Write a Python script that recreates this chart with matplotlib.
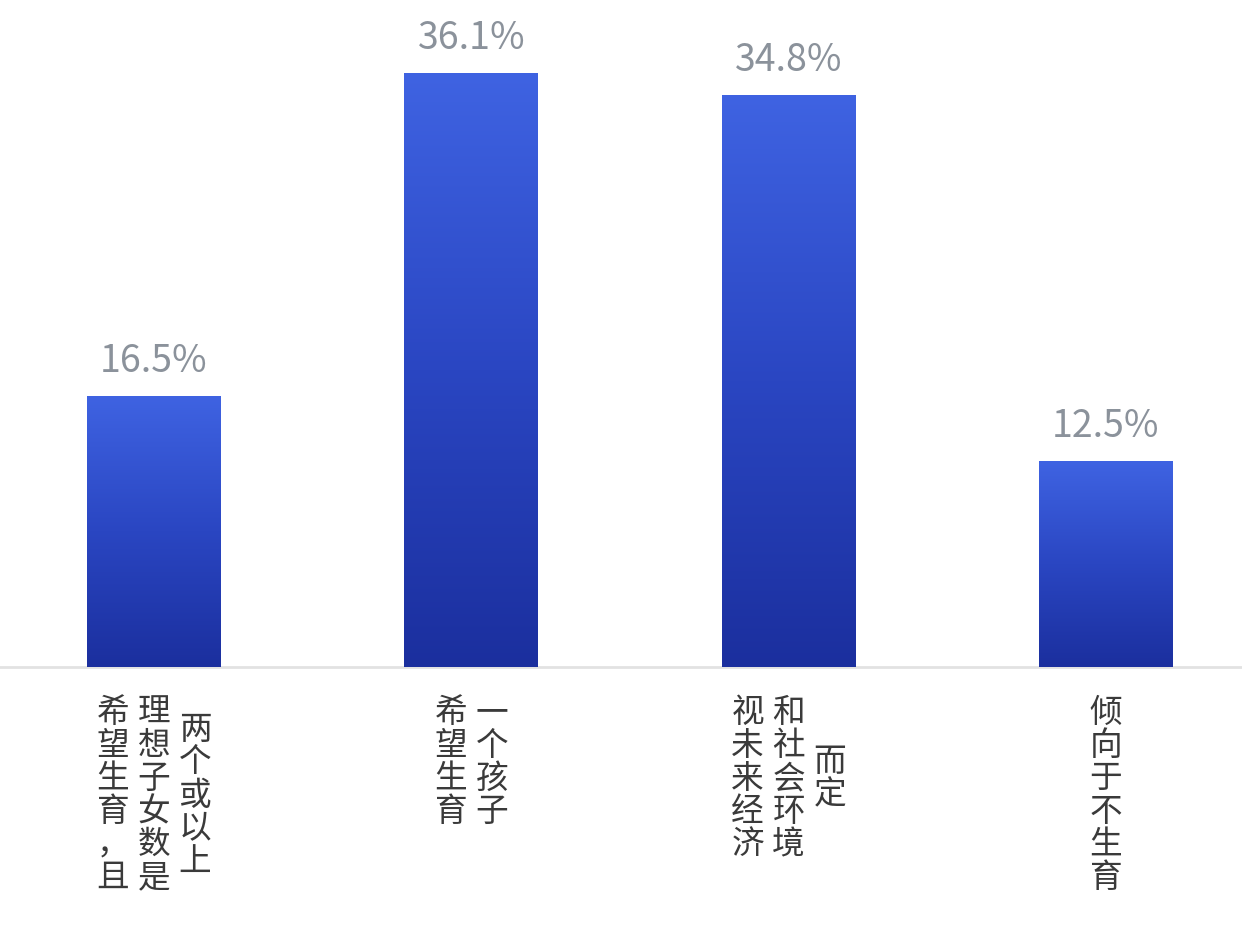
import numpy as np
import matplotlib
matplotlib.use("Agg")
import matplotlib.pyplot as plt
from matplotlib.colors import LinearSegmentedColormap

plt.rcParams['font.family'] = ['Noto Sans CJK SC', 'DejaVu Sans']

categories = ["希望生育，且理想子女数是两个或以上", "希望生育一个孩子", "视未来经济和社会环境而定", "倾向于不生育"]
label_columns = [
    ["希望生育，且", "理想子女数是", "两个或以上"],
    ["希望生育", "一个孩子"],
    ["视未来经济", "和社会环境", "而定"],
    ["倾向于不生育"],
]
values = [16.5, 36.1, 34.8, 12.5]
value_labels = ["16.5%", "36.1%", "34.8%", "12.5%"]

W, H, DPI = 1242, 937, 100
fig = plt.figure(figsize=(W / DPI, H / DPI), dpi=DPI)
base_frac = (H - 668) / H
ax = fig.add_axes([0, base_frac, 1, 1 - base_frac])
ax.axis('off')

x = np.arange(len(values))
bars = ax.bar(x, values, width=0.422, color='none', edgecolor='none', zorder=2)

cmap = LinearSegmentedColormap.from_list('g', ['#1b2f9e', '#2a46c2', '#3f63e2'])
grad = np.linspace(0, 1, 256).reshape(-1, 1)
for b in bars:
    x0, y0 = b.get_x(), b.get_y()
    w, h = b.get_width(), b.get_height()
    im = ax.imshow(grad, cmap=cmap, origin='lower', aspect='auto',
                   extent=[x0, x0 + w, y0, y0 + h], zorder=2, interpolation='bicubic')
    im.set_clip_path(b)

ax.set_xlim(-0.4853, 3.4286)
ax.set_ylim(0, 668 / 16.45)

# baseline
ax.axhline(0, color='#e2e2e2', lw=2, zorder=1, clip_on=False)

px = 72 / DPI
for xi, v, lab in zip(x, values, value_labels):
    ax.annotate(lab, xy=(xi, v), xytext=(0, 25 * px), textcoords='offset points',
                ha='center', va='baseline', fontsize=27, color='#8b929b',
                fontweight='light', annotation_clip=False)

step = 33
colgap = 41
first = 45
for xi, cols in zip(x, label_columns):
    n = len(cols)
    L = max(len(c) for c in cols)
    for j, col in enumerate(cols):
        dx = (j - (n - 1) / 2) * colgap
        shift = (L - len(col)) / 2 * step
        for i, ch in enumerate(col):
            dy = -(first + shift + i * step)
            ax.annotate(ch, xy=(xi, 0), xytext=(dx * px, dy * px), textcoords='offset points',
                        ha='center', va='center', fontsize=23.5, color='#3a3a3a',
                        annotation_clip=False)

fig.savefig('out.png', dpi=DPI, facecolor='white')
